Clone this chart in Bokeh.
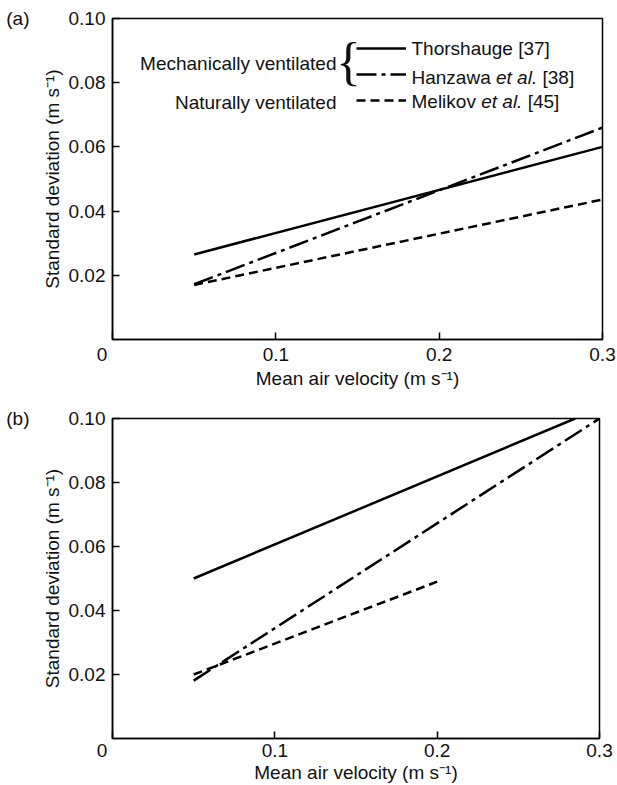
from bokeh.plotting import figure
from bokeh.models import Range1d, FixedTicker, Label, Legend, LegendItem, LinearAxis
from bokeh.layouts import column
from bokeh.embed import file_html
from bokeh.resources import INLINE

# ---------------- data ----------------
x_ticks = [0.0, 0.1, 0.2, 0.3]
x_tick_labels = ["0\u00a0\u00a0\u00a0\u00a0", "0.1", "0.2", "0.3"]
y_ticks = [0.02, 0.04, 0.06, 0.08, 0.10]
y_tick_labels = ["0.02", "0.04", "0.06", "0.08", "0.10"]

# panel (a)
a_thorshauge_x = [0.05, 0.30]
a_thorshauge_y = [0.0265, 0.0600]
a_hanzawa_x = [0.05, 0.30]
a_hanzawa_y = [0.0172, 0.0660]
a_melikov_x = [0.05, 0.30]
a_melikov_y = [0.0170, 0.0436]

# panel (b)
b_thorshauge_x = [0.05, 0.285]
b_thorshauge_y = [0.0500, 0.1000]
b_hanzawa_x = [0.05, 0.30]
b_hanzawa_y = [0.0181, 0.1000]
b_melikov_x = [0.05, 0.20]
b_melikov_y = [0.0200, 0.0490]

FONT = "Liberation Sans"
FS = "19px"
TXT = "#111111"
DASH = "9 5"
DASHDOT = "20 5 4 5"


def style_axis(ax):
    ax.axis_line_color = "black"
    ax.axis_line_width = 1.5
    ax.major_tick_line_color = "black"
    ax.major_tick_line_width = 1.5
    ax.major_tick_in = 7
    ax.major_tick_out = 0
    ax.minor_tick_line_color = None
    ax.major_label_text_font = FONT
    ax.major_label_text_font_size = FS
    ax.major_label_text_color = TXT
    ax.axis_label_text_font = FONT
    ax.axis_label_text_font_size = FS
    ax.axis_label_text_font_style = "normal"
    ax.axis_label_text_color = TXT


def make_panel(tag, left, top, frame_w, frame_h, bottom, right,
               xlab_standoff, xtitle_standoff):
    p = figure(frame_width=frame_w, frame_height=frame_h,
               x_range=Range1d(0, 0.3), y_range=Range1d(0, 0.10),
               output_backend="svg", toolbar_location=None,
               min_border_left=left, min_border_top=top,
               min_border_bottom=bottom, min_border_right=right)
    p.grid.visible = False
    p.outline_line_color = "black"
    p.outline_line_width = 1.5
    p.background_fill_color = "white"
    p.border_fill_color = "white"

    xa = p.xaxis[0]
    xa.ticker = FixedTicker(ticks=x_ticks)
    xa.major_label_overrides = dict(zip(x_ticks, x_tick_labels))
    xa.axis_label = "Mean air velocity (m s\u207b\u00b9)"
    ya = p.yaxis[0]
    ya.ticker = FixedTicker(ticks=y_ticks)
    ya.major_label_overrides = dict(zip(y_ticks, y_tick_labels))
    ya.axis_label = "Standard deviation (m s\u207b\u00b9)"
    style_axis(xa)
    style_axis(ya)
    xa.major_label_standoff = xlab_standoff
    xa.axis_label_standoff = xtitle_standoff
    ya.major_label_standoff = 7
    ya.axis_label_standoff = 3

    # panel tag as an outer, line-less axis label aligned with the top of the frame
    tag_axis = LinearAxis(ticker=FixedTicker(ticks=[0.10]),
                          major_label_overrides={0.10: tag})
    style_axis(tag_axis)
    tag_axis.axis_line_color = None
    tag_axis.major_tick_line_color = None
    tag_axis.major_label_standoff = 9
    p.add_layout(tag_axis, "left")
    return p


# ---------------- panel (a) ----------------
pa = make_panel("(a)", 109, 18, 490, 321, 53, 18, 4, 0)
r1 = pa.line(a_thorshauge_x, a_thorshauge_y, line_color="black", line_width=2.5)
r2 = pa.line(a_hanzawa_x, a_hanzawa_y, line_color="black", line_width=2.5,
             line_dash=DASHDOT)
r3 = pa.line(a_melikov_x, a_melikov_y, line_color="black", line_width=2.5,
             line_dash=DASH)

legend = Legend(items=[LegendItem(label=" ", renderers=[r]) for r in (r1, r2, r3)],
                location=(244, 229), padding=0, margin=0, spacing=6,
                glyph_width=50, glyph_height=20, label_width=1, label_height=20,
                label_standoff=0, label_text_font_size="2px",
                background_fill_alpha=0, border_line_alpha=0)
pa.add_layout(legend)


def txt(p, px, py, text, align="left", style="normal", size=FS, font=FONT):
    # px, py: pixel offsets from the top-left corner of the plot frame
    p.add_layout(Label(x=0, y=0.10, x_offset=px, y_offset=-py, text=text,
                       text_align=align, text_baseline="middle",
                       text_font=font, text_font_size=size,
                       text_font_style=style, text_color=TXT))


txt(pa, 224, 45, "Mechanically ventilated", align="right")
txt(pa, 224, 84, "Naturally ventilated", align="right")
txt(pa, 236, 43, "{", align="center", size="52px", font="Liberation Serif")
txt(pa, 299, 30, "Thorshauge [37]")
txt(pa, 299, 59, "Hanzawa")
txt(pa, 383.5, 59, "et al.", style="italic")
txt(pa, 430, 59, "[38]")
txt(pa, 299, 83, "Melikov")
txt(pa, 368.7, 83, "et al.", style="italic")
txt(pa, 415.2, 83, "[45]")

# ---------------- panel (b) ----------------
pb = make_panel("(b)", 112, 26, 487, 320, 47, 18, 1, -2)
pb.line(b_thorshauge_x, b_thorshauge_y, line_color="black", line_width=2.5)
pb.line(b_hanzawa_x, b_hanzawa_y, line_color="black", line_width=2.5,
        line_dash=DASHDOT)
pb.line(b_melikov_x, b_melikov_y, line_color="black", line_width=2.5,
        line_dash=DASH)

layout = column(pa, pb, spacing=0)
open("out.html", "w").write(file_html(layout, INLINE))
